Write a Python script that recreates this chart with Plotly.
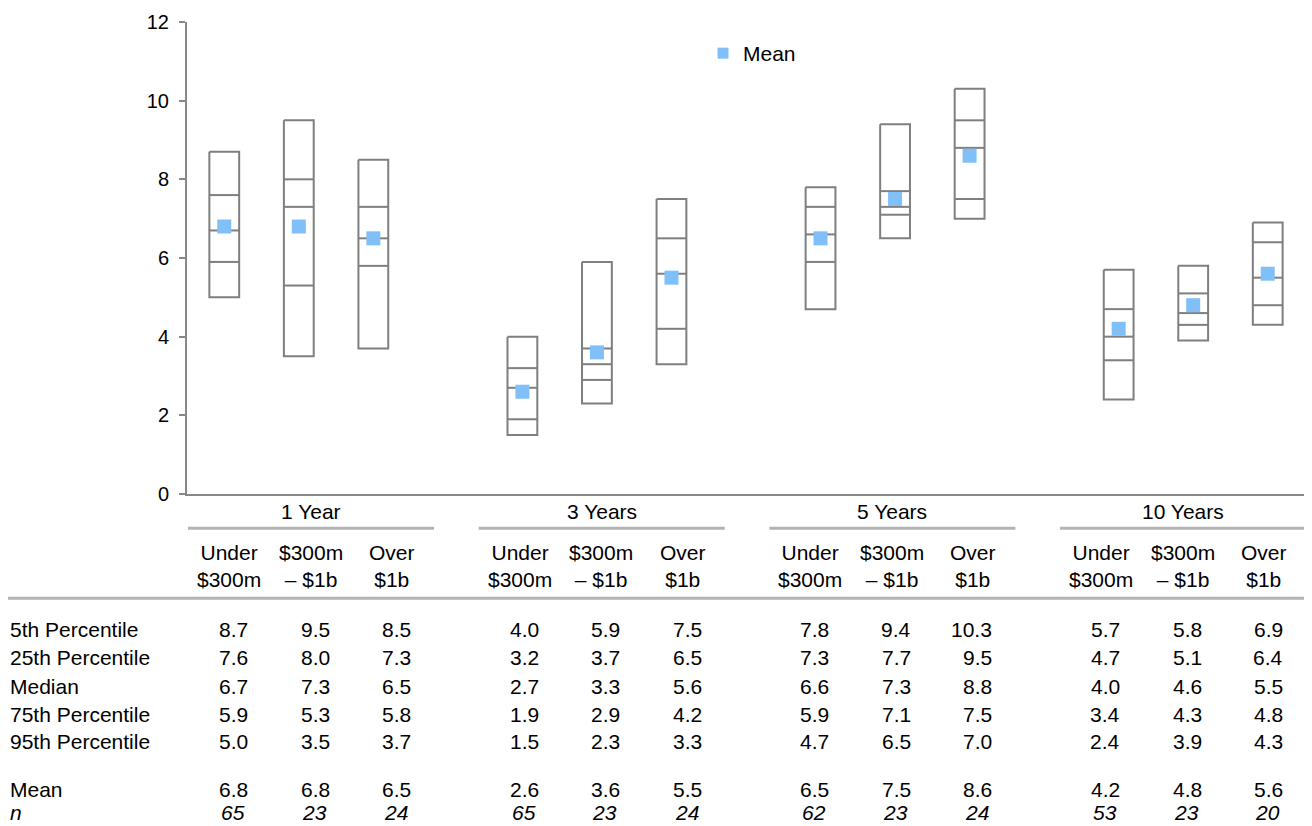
import plotly.graph_objects as go

# ---------------- data ----------------
groups = ["1 Year", "3 Years", "5 Years", "10 Years"]
sizes = ["Under<br>$300m", "$300m<br>– $1b", "Over<br>$1b"]
row_labels = ["5th Percentile", "25th Percentile", "Median", "75th Percentile", "95th Percentile"]

p5 = [8.7, 9.5, 8.5, 4.0, 5.9, 7.5, 7.8, 9.4, 10.3, 5.7, 5.8, 6.9]
p25 = [7.6, 8.0, 7.3, 3.2, 3.7, 6.5, 7.3, 7.7, 9.5, 4.7, 5.1, 6.4]
median = [6.7, 7.3, 6.5, 2.7, 3.3, 5.6, 6.6, 7.3, 8.8, 4.0, 4.6, 5.5]
p75 = [5.9, 5.3, 5.8, 1.9, 2.9, 4.2, 5.9, 7.1, 7.5, 3.4, 4.3, 4.8]
p95 = [5.0, 3.5, 3.7, 1.5, 2.3, 3.3, 4.7, 6.5, 7.0, 2.4, 3.9, 4.3]
mean = [6.8, 6.8, 6.5, 2.6, 3.6, 5.5, 6.5, 7.5, 8.6, 4.2, 4.8, 5.6]
n_obs = [65, 23, 24, 65, 23, 24, 62, 23, 24, 53, 23, 20]

y_ticks = [0, 2, 4, 6, 8, 10, 12]

# ---------------- layout helpers ----------------
PAGE_OFF = 8                     # default body margin of the html page
W, H = 1312 - PAGE_OFF, 826 - PAGE_OFF
L, T, PW, PH = 187 - PAGE_OFF, 22 - PAGE_OFF, 1118, 472
FONT = "Liberation Sans, Arial, Helvetica, sans-serif"
BOX_COLOR = "#7F7F7F"
MEAN_COLOR = "#80BFF7"


def px(x):
    """page pixel x -> paper coordinate"""
    return (x - PAGE_OFF - L) / PW


def py(y):
    """page pixel y -> paper coordinate"""
    return (T + PH - (y - PAGE_OFF)) / PH


xs = [g * 4 + j for g in range(len(groups)) for j in range(len(sizes))]
hw = 0.2

bx, by = [], []
for x, a, b, c, d, e in zip(xs, p5, p25, median, p75, p95):
    bx += [x - hw, x + hw, x + hw, x - hw, x - hw, None]
    by += [a, a, e, e, a, None]
    for v in (b, c, d):
        bx += [x - hw, x + hw, None]
        by += [v, v, None]

fig = go.Figure()
fig.add_trace(go.Scatter(
    x=bx, y=by, mode="lines",
    line=dict(color=BOX_COLOR, width=2),
    showlegend=False, hoverinfo="skip",
))
fig.add_trace(go.Scatter(
    x=xs, y=mean, mode="markers",
    marker=dict(symbol="square", size=14, color=MEAN_COLOR),
    name="Mean", showlegend=False,
))
fig.add_trace(go.Scatter(
    x=[None], y=[None], mode="markers",
    marker=dict(symbol="square", size=11, color=MEAN_COLOR),
    name="Mean", showlegend=True,
))

annotations = []
shapes = []
tfont = dict(family=FONT, size=21, color="#000000")

for g, gname in enumerate(groups):
    off = 290.7 * g
    annotations.append(dict(
        x=px(311 + off), y=py(512), xref="paper", yref="paper",
        text=gname, showarrow=False, xanchor="center", yanchor="middle", font=tfont,
    ))
    shapes.append(dict(
        type="line", xref="paper", yref="paper",
        x0=px(188 + off), x1=px(434 + off), y0=py(528.3), y1=py(528.3),
        line=dict(color="#B3B3B3", width=3),
    ))
    for j, sname in enumerate(sizes):
        right = 247 + off + 81.5 * j
        annotations.append(dict(
            x=px(right - 18), y=py(565.5), xref="paper", yref="paper",
            text=sname, showarrow=False, xanchor="center", yanchor="middle",
            align="center", font=tfont,
        ))

shapes.append(dict(
    type="line", xref="paper", yref="paper",
    x0=px(5), x1=px(1306), y0=py(598.3), y1=py(598.3),
    line=dict(color="#B3B3B3", width=3),
))

row_y = [629.5, 657.7, 686, 714, 741.5]
rows = [p5, p25, median, p75, p95]
for label, yv, vals in zip(row_labels, row_y, rows):
    annotations.append(dict(
        x=px(8), y=py(yv), xref="paper", yref="paper", text=label,
        showarrow=False, xanchor="left", yanchor="middle", font=tfont,
    ))
    for k, v in enumerate(vals):
        g, j = divmod(k, 3)
        right = 247 + 290.7 * g + 81.5 * j
        annotations.append(dict(
            x=px(right + 3), y=py(yv), xref="paper", yref="paper", text=f"{v:.1f}",
            showarrow=False, xanchor="right", yanchor="middle", font=tfont,
        ))

MEAN_Y, N_Y = 789.5, 813
annotations.append(dict(
    x=px(8), y=py(MEAN_Y), xref="paper", yref="paper", text="Mean",
    showarrow=False, xanchor="left", yanchor="middle", font=tfont,
))
annotations.append(dict(
    x=px(8), y=py(N_Y), xref="paper", yref="paper", text="<i>n</i>",
    showarrow=False, xanchor="left", yanchor="middle", font=tfont,
))
for k, (m, nv) in enumerate(zip(mean, n_obs)):
    g, j = divmod(k, 3)
    right = 247 + 290.7 * g + 81.5 * j
    annotations.append(dict(
        x=px(right + 3), y=py(MEAN_Y), xref="paper", yref="paper", text=f"{m:.1f}",
        showarrow=False, xanchor="right", yanchor="middle", font=tfont,
    ))
    annotations.append(dict(
        x=px(right), y=py(N_Y), xref="paper", yref="paper", text=f"<i>{nv}</i>",
        showarrow=False, xanchor="right", yanchor="middle", font=tfont,
    ))

fig.update_layout(
    width=W, height=H,
    margin=dict(l=L, r=W - L - PW, t=T, b=H - T - PH, pad=0, autoexpand=False),
    paper_bgcolor="white", plot_bgcolor="white",
    font=dict(family=FONT, size=20, color="#000000"),
    xaxis=dict(
        range=[-0.5, 14.5], showticklabels=False, ticks="", showgrid=False,
        zeroline=False, showline=True, linecolor="#888888", linewidth=2,
        automargin=False,
    ),
    yaxis=dict(
        range=[0, 12], tickvals=y_ticks, ticks="outside", ticklen=6, tickwidth=2,
        tickcolor="#888888", showgrid=False, zeroline=False, showline=True,
        linecolor="#888888", linewidth=2, ticklabelstandoff=6, automargin=False,
        tickfont=dict(family=FONT, size=20, color="#000000"),
    ),
    legend=dict(
        x=px(703), y=py(53.5), xanchor="left", yanchor="middle",
        font=dict(family=FONT, size=21, color="#000000"),
        bgcolor="rgba(0,0,0,0)",
    ),
    annotations=annotations,
    shapes=shapes,
)

fig.write_html("out.html")
